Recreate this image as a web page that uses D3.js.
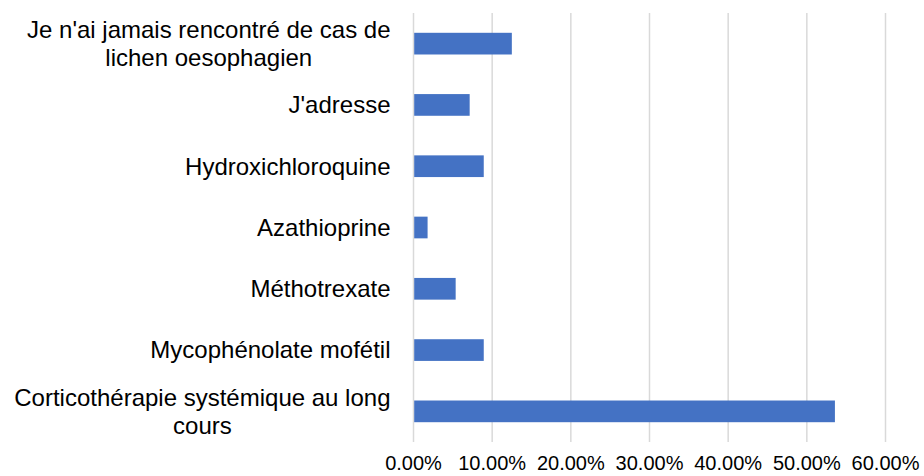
<!DOCTYPE html>
<html>
<head>
<meta charset="utf-8">
<script src="https://cdn.jsdelivr.net/npm/d3@7"></script>
<style>
  body { margin: 0; background: #fff; }
  svg { display: block; }
</style>
</head>
<body>
<div id="chart"></div>
<script>
// Chart size and plot box.
const WIDTH = 924;
const HEIGHT = 476;
const M = { left: 413.5, right: 885.5, top: 13, bottom: 442 };

// Categories, top to bottom (label lines split where the original wraps).
const CATEGORIES = [
  "Je n'ai jamais rencontré de cas de|lichen oesophagien",
  "J'adresse",
  "Hydroxichloroquine",
  "Azathioprine",
  "Méthotrexate",
  "Mycophénolate mofétil",
  "Corticothérapie systémique au long|cours",
];

// Share of answers for each category.
const VALUES = [0.125, 0.0714, 0.0893, 0.0179, 0.0536, 0.0893, 0.5357];

// Axis ticks.
const TICKS = [0, 0.1, 0.2, 0.3, 0.4, 0.5, 0.6];

const BAR_COLOR = "#4472c4";
const GRID_COLOR = "#d9d9d9";

let svg = d3
  .select("#chart")
  .append("svg")
  .attr("width", WIDTH)
  .attr("height", HEIGHT);

let x = d3.scaleLinear().domain([0, 0.6]).range([M.left, M.right]);

let y = d3
  .scaleBand()
  .domain(CATEGORIES)
  .range([M.top, M.bottom])
  .paddingInner(0.646)
  .paddingOuter(0.323);

// Vertical gridlines.
svg
  .append("g")
  .selectAll("line")
  .data(TICKS)
  .enter()
  .append("line")
  .attr("x1", (d) => x(d))
  .attr("x2", (d) => x(d))
  .attr("y1", M.top)
  .attr("y2", M.bottom)
  .attr("stroke", GRID_COLOR)
  .attr("stroke-width", 1.5);

// Bars.
svg
  .append("g")
  .selectAll("rect")
  .data(VALUES)
  .enter()
  .append("rect")
  .attr("x", x(0) + 0.7)
  .attr("y", (d, i) => y(CATEGORIES[i]))
  .attr("width", (d) => x(d) - x(0) - 0.7)
  .attr("height", y.bandwidth())
  .attr("fill", BAR_COLOR);

// Category labels: block right-aligned, lines centred within the block.
const LABEL_FONT = "'Liberation Sans', Arial, Helvetica, sans-serif";
const LABEL_SIZE = 24;
const LINE_H = 27.5;
const LABEL_RIGHT = 390.5;

let labels = svg
  .append("g")
  .attr("font-family", LABEL_FONT)
  .attr("font-size", LABEL_SIZE)
  .attr("fill", "#000");

CATEGORIES.forEach(function (cat, i) {
  let lines = cat.split("|");
  let cy = y(cat) + y.bandwidth() / 2;
  let t = labels.append("text").attr("text-anchor", "middle");
  lines.forEach(function (line, j) {
    t.append("tspan")
      .attr("y", cy + LABEL_SIZE * 0.35 + (j - (lines.length - 1) / 2) * LINE_H)
      .text(line);
  });
  // Measure the widest line and centre everything on the block's middle.
  let w = 0;
  t.selectAll("tspan").each(function () {
    w = Math.max(w, this.getComputedTextLength());
  });
  t.selectAll("tspan").attr("x", LABEL_RIGHT - w / 2);
});

// X axis tick labels.
svg
  .append("g")
  .attr("font-family", "'Liberation Sans Narrow', 'Arial Narrow', 'Liberation Sans', sans-serif")
  .attr("font-size", 20)
  .attr("fill", "#000")
  .selectAll("text")
  .data(TICKS)
  .enter()
  .append("text")
  .attr("x", (d) => x(d))
  .attr("y", 470)
  .attr("text-anchor", "middle")
  .text((d) => (d * 100).toFixed(2) + "%");
</script>
</body>
</html>
